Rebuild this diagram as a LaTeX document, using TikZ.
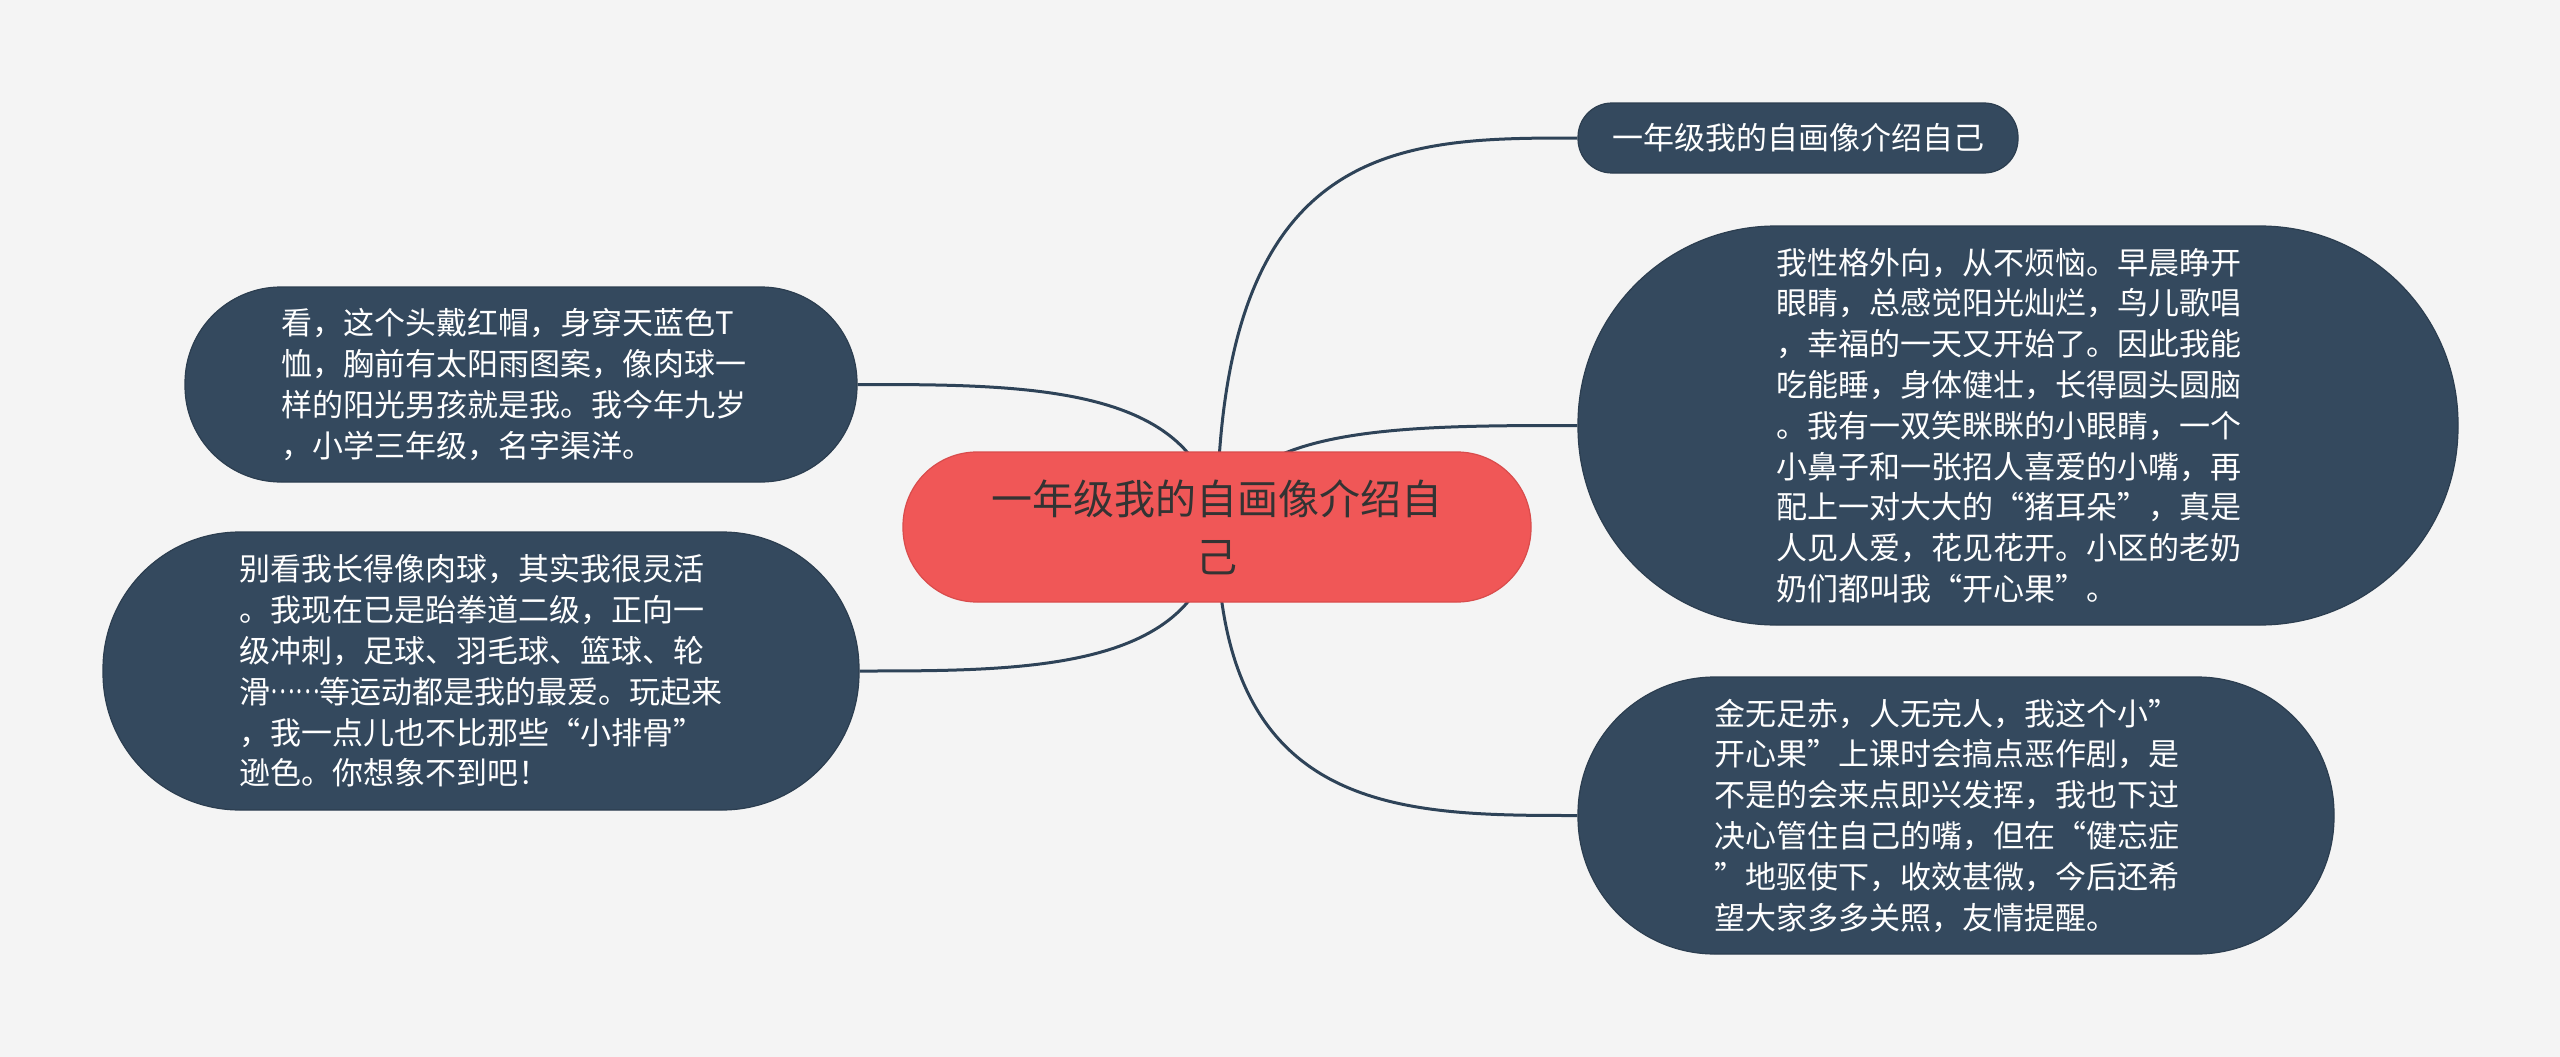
\documentclass[tikz,border=0pt]{standalone}
\usepackage{fontspec}
\setmainfont{Noto Sans CJK SC}
\usetikzlibrary{calc}
\definecolor{bgc}{HTML}{F4F4F4}
\definecolor{navy}{HTML}{34495E}
\definecolor{navyline}{HTML}{2C3E50}
\definecolor{rootred}{HTML}{F05757}
\definecolor{rootline}{HTML}{D94C4C}
\definecolor{roottext}{HTML}{333333}
\definecolor{connc}{HTML}{2E4358}
\pgfdeclarelayer{back}
\pgfdeclarelayer{mid}
\pgfsetlayers{back,mid,main}
\tikzset{
  leaf/.style={fill=navy, draw=navyline, line width=1.2pt, text=white,
    inner sep=0pt, align=left, font=\fontsize{31}{40.8}\selectfont},
  rootbox/.style={fill=rootred, draw=rootline, line width=1.2pt, text=roottext,
    inner sep=0pt, align=center, font=\fontsize{41}{58}\selectfont,
    minimum width=628pt, minimum height=150pt, rounded corners=74pt},
  titlebox/.style={fill=navy, draw=navyline, line width=1.2pt, text=white,
    inner sep=0pt, align=center, font=\fontsize{31}{40}\selectfont,
    minimum width=440pt, minimum height=70pt, rounded corners=34pt},
  conn/.style={draw=connc, line width=3pt}
}
\newcommand{\midellip}{\raisebox{0.32em}{\scalebox{0.75}[1]{……}}}
\begin{document}
\begin{tikzpicture}[x=1pt,y=-1pt]
\begin{pgfonlayer}{back}
\fill[bgc] (0,0) rectangle (2560,1057);
\end{pgfonlayer}
\useasboundingbox (0,0) rectangle (2560,1057);

\node[rootbox] (root) at (1217,527) {一年级我的自画像介绍自\\己};

\node[titlebox] (t1) at (1798,138) {一年级我的自画像介绍自己};

\node[leaf, minimum width=880pt, minimum height=399pt, rounded corners=198pt,
  text width=483pt] (r1) at (2018,425.5) {我性格外向，从不烦恼。早晨睁开\\
眼睛，总感觉阳光灿烂，鸟儿歌唱\\
，幸福的一天又开始了。因此我能\\
吃能睡，身体健壮，长得圆头圆脑\\
。我有一双笑眯眯的小眼睛，一个\\
小鼻子和一张招人喜爱的小嘴，再\\
配上一对大大的“猪耳朵”，真是\\
人见人爱，花见花开。小区的老奶\\
奶们都叫我“开心果”。};

\node[leaf, minimum width=756pt, minimum height=277pt, rounded corners=137pt,
  text width=483pt] (r2) at (1956,815.5) {金无足赤，人无完人，我这个小”\\
开心果”上课时会搞点恶作剧，是\\
不是的会来点即兴发挥，我也下过\\
决心管住自己的嘴，但在“健忘症\\
”地驱使下，收效甚微，今后还希\\
望大家多多关照，友情提醒。};

\node[leaf, minimum width=672pt, minimum height=195pt, rounded corners=96pt,
  text width=479pt] (l1) at (521,384.5) {看，这个头戴红帽，身穿天蓝色T\\
恤，胸前有太阳雨图案，像肉球一\\
样的阳光男孩就是我。我今年九岁\\
，小学三年级，名字渠洋。};

\node[leaf, minimum width=756pt, minimum height=278pt, rounded corners=137pt,
  text width=483pt] (l2) at (481,671) {别看我长得像肉球，其实我很灵活\\
。我现在已是跆拳道二级，正向一\\
级冲刺，足球、羽毛球、篮球、轮\\
滑\midellip 等运动都是我的最爱。玩起来\\
，我一点儿也不比那些“小排骨”\\
逊色。你想象不到吧！};

\begin{pgfonlayer}{mid}
\draw[conn] (root.center) .. controls (1217,138) and (1400,138) .. (t1.west);
\draw[conn] (root.center) .. controls (1235,425.5) and (1400,425.5) .. (r1.west);
\draw[conn] (root.center) .. controls (1217,815.5) and (1400,815.5) .. (r2.west);
\draw[conn] (root.center) .. controls (1205,384.5) and (1030,384.5) .. (l1.east);
\draw[conn] (root.center) .. controls (1205,671) and (1030,671) .. (l2.east);
\end{pgfonlayer}
\end{tikzpicture}
\end{document}
